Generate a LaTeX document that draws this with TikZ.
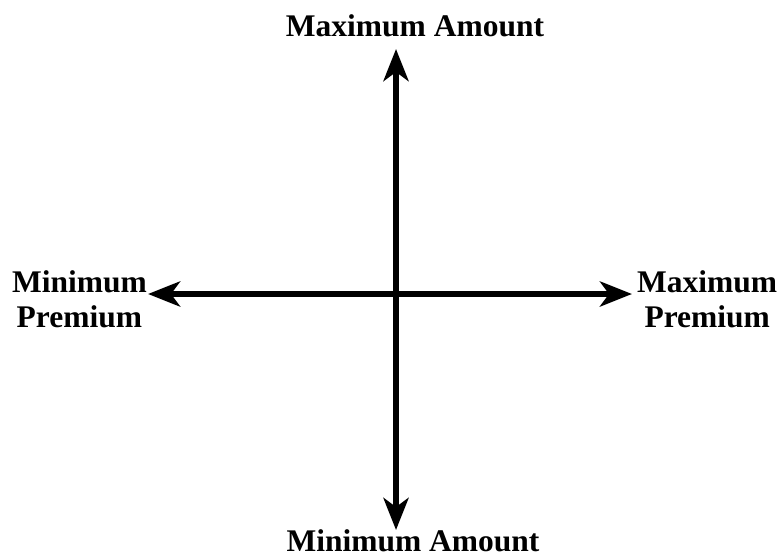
\documentclass[tikz,border=0pt]{standalone}
\usepackage{fontspec}
\setmainfont{Liberation Serif}
\usetikzlibrary{arrows.meta,positioning}

\begin{document}
\begin{tikzpicture}[x=1pt,y=-1pt,
  axis/.style={line width=6pt,{Stealth[length=32pt,width=25pt,inset=9pt]}-{Stealth[length=32pt,width=25pt,inset=9pt]}},
  lab/.style={font=\fontsize{31.5}{35}\selectfont\bfseries,align=center,inner sep=0pt}]
\useasboundingbox (0,0) rectangle (783,556);
% arrow tips
\coordinate (maxamt) at (396,49);
\coordinate (minamt) at (396,530);
\coordinate (minprem) at (148,294);
\coordinate (maxprem) at (632,294);
\draw[axis] (minamt)--(maxamt);
\draw[axis] (minprem)--(maxprem);
% labels
\node[lab,anchor=base] (tmax) at (415,37) {Maximum Amount};
\node[lab,anchor=base,text depth=0pt] (tmin) at (413,551) {Minimum Amount};
\node[lab,anchor=base east] (pmin) at (147,327) {Minimum\\Premium};
\node[lab,anchor=base west] (pmax) at (637,327) {Maximum\\Premium};
\end{tikzpicture}
\end{document}
